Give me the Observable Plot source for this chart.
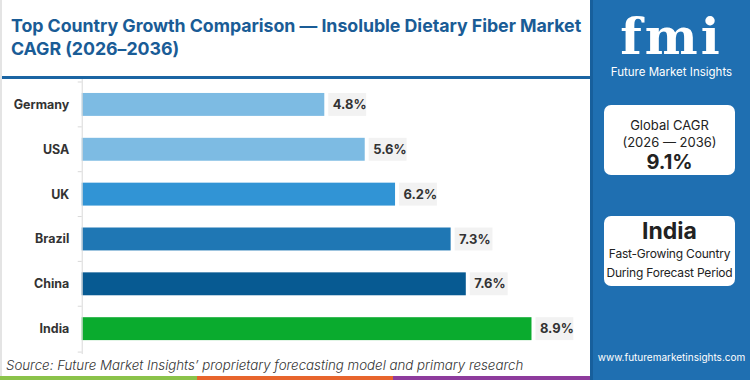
<!DOCTYPE html>
<html><head><meta charset="utf-8">
<script src="https://cdn.jsdelivr.net/npm/d3@7"></script>
<script src="https://cdn.jsdelivr.net/npm/@observablehq/plot@0.6"></script>
<style>
html,body{margin:0;padding:0;background:#fff;}
#wrap{position:relative;width:750px;height:380px;overflow:hidden;font-family:Inter,"Open Sans",sans-serif;}
#left{position:absolute;left:0;top:0;width:590px;height:376px;background:#fff;border-left:2px solid #e4e4e4;box-sizing:border-box;}
#title{height:79px;box-sizing:border-box;padding:14px 0 0 9px;font-weight:700;font-size:17.8px;line-height:23px;color:#1a5c96;letter-spacing:-0.05px;border-bottom:3px solid #1b65a3;}
#chart{position:absolute;left:0;top:82px;}
#source{position:absolute;left:4px;top:357px;font-style:italic;font-size:13.3px;color:#333;white-space:nowrap;font-weight:300;}
#strip{position:absolute;left:0;top:376px;width:590px;height:4px;display:flex;}
#right{position:absolute;left:590px;top:0;width:160px;height:380px;background:#1f6fb1;border-left:3px solid #175f9c;box-sizing:border-box;color:#fff;}
.card{position:absolute;left:11px;width:131px;background:#fff;border-radius:7px;color:#222;text-align:center;overflow:hidden;white-space:nowrap;}
</style></head>
<body>
<div id="wrap">
  <div id="left">
    <div id="title">Top Country Growth Comparison — Insoluble Dietary Fiber Market<br>CAGR (2026–2036)</div>
    <div id="chart"></div>
    <div id="source">Source: Future Market Insights’ proprietary forecasting model and primary research</div>
  </div>
  <div id="strip"><div style="flex:1;background:#8bc34a"></div><div style="flex:1;background:#e8652d"></div><div style="flex:1;background:#8e3b9d"></div></div>
  <div id="right">
    <div style="position:absolute;left:0;width:157px;top:10px;text-align:center;font-weight:900;font-size:50px;line-height:54px;letter-spacing:3px;font-family:'DejaVu Serif',serif;color:#fff;">fmi</div>
    <div style="position:absolute;left:0;width:157px;top:65px;text-align:center;font-size:11.5px;color:#fff;">Future Market Insights</div>
    <div class="card" style="top:105px;height:70px;">
      <div style="margin-top:12px;font-size:13px;line-height:17px;">Global CAGR</div>
      <div style="font-size:13px;line-height:17px;">(2026 — 2036)</div>
      <div style="font-size:20px;font-weight:700;line-height:22px;">9.1%</div>
    </div>
    <div class="card" style="top:216px;height:70px;">
      <div style="margin-top:2px;font-size:23px;font-weight:700;line-height:26px;">India</div>
      <div style="font-size:12px;line-height:19px;letter-spacing:-0.2px;">Fast-Growing Country</div>
      <div style="font-size:12px;line-height:19px;letter-spacing:-0.2px;">During Forecast Period</div>
    </div>
    <div style="position:absolute;left:0;width:157px;top:351px;text-align:center;font-size:10px;color:#fff;">www.futuremarketinsights.com</div>
  </div>
</div>
<script>
const countries = ["Germany","USA","UK","Brazil","China","India"];
const cagr = [4.8, 5.6, 6.2, 7.3, 7.6, 8.9];
const barColors = ["#7dbbe3","#7dbbe3","#3194d5","#1f77b4","#075a92","#0aab2e"];
const labels = ["4.8%","5.6%","6.2%","7.3%","7.6%","8.9%"];

const data = countries.map((c,i)=>({country:c, value:cagr[i], color:barColors[i], label:labels[i]}));

const chart = Plot.plot({
  width: 590,
  height: 294,
  marginLeft: 80,
  marginRight: 8,
  marginTop: 0,
  marginBottom: 24,
  style: {fontFamily: "Inter, 'Open Sans', sans-serif", background: "transparent", overflow: "visible"},
  x: {domain: [0, 9.9], axis: null},
  y: {domain: countries, paddingInner: 0.5, paddingOuter: 0.185, axis: null},
  marks: [
    Plot.barX(data, {y: "country", x: "value", fill: "color"}),
    Plot.barX(data, {y: "country", x1: "value", x2: "value", insetLeft: 4, insetRight: -42, fill: "#f2f2f2"}),
    Plot.text(data, {y: "country", x: "value", text: "label", dx: 8, textAnchor: "start", fontWeight: 700, fontSize: 13, fill: "#333"}),
    Plot.ruleX([0], {stroke: "#d9d9d9", strokeWidth: 1, insetTop: -3, insetBottom: -3}),
    Plot.ruleY(countries, {y: d => d, x1: 0, x2: 0, insetLeft: -4, dy: -23, stroke: "#d9d9d9"}),
    Plot.ruleY(countries.slice(-1), {y: d => d, x1: 0, x2: 0, insetLeft: -4, dy: 23, stroke: "#d9d9d9"}),
    Plot.axisY({tickSize: 0, tickPadding: 13, fontSize: 12.5, fontWeight: 700, fill: "#333", label: null})
  ]
});
document.getElementById("chart").appendChild(chart);
</script>
</body></html>
